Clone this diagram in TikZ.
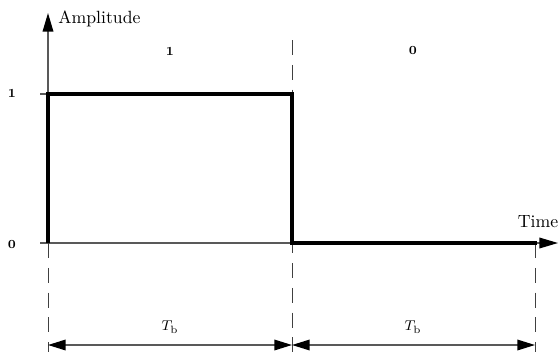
\documentclass[tikz,border=0pt]{standalone}
\usetikzlibrary{arrows.meta}
\begin{document}
\begin{tikzpicture}[x=0.565pt,y=-0.565pt,
  axisline/.style={draw=black!65,line width=0.8pt},
  signal/.style={draw=black,line width=2.2pt,line join=miter},
  guide/.style={draw=black!75,line width=0.5pt,dash pattern=on 8.5pt off 5.5pt},
  tip/.style={-{Triangle[length=10.5pt,width=6pt,black]}},
  dimline/.style={draw=black!65,line width=0.8pt,{Triangle[length=10pt,width=6pt,black]}-{Triangle[length=10pt,width=6pt,black]}},
  lab/.style={font=\scriptsize\bfseries,inner sep=0pt},
  txt/.style={font=\normalsize,inner sep=0pt}]
\useasboundingbox (0,0) rectangle (560,352);
% coordinates
\coordinate (o) at (48,243);
\coordinate (ytop) at (48,13);
\coordinate (xend) at (558,243);
\coordinate (xstart) at (40,243);
\coordinate (t1) at (40,94);
\coordinate (a1) at (48,94);
\coordinate (b1) at (292,94);
\coordinate (b0) at (292,243);
\coordinate (c0) at (537,243);
\coordinate (gtop) at (292,40);
\coordinate (gl) at (48,352);
\coordinate (gm) at (292,352);
\coordinate (gr) at (535,352);
\coordinate (gr0) at (535,243);
\coordinate (dl) at (48,345);
\coordinate (dm) at (292,345);
\coordinate (dr) at (535,345);
% axes
\draw[axisline,tip] (xstart) -- (xend);
\draw[axisline,tip] (o) -- (ytop);
\draw[axisline] (t1) -- (a1);
% guides
\draw[guide] (gtop) -- (gm);
\draw[guide] (o) -- (gl);
\draw[guide] (gr0) -- (gr);
% signal
\draw[signal] (o) -- (a1) -- (b1) -- (b0) -- (c0);
% dimension arrows
\draw[dimline] (dl) -- (dm);
\draw[dimline] (dm) -- (dr);
% labels
\node[txt,anchor=west] (amp) at (58,19) {Amplitude};
\node[txt] (time) at (538,222) {Time};
\node[lab] (bit1) at (170,51) {1};
\node[lab] (bit0) at (413,51) {0};
\node[lab] (lv1) at (12,93) {1};
\node[lab] (lv0) at (12,245) {0};
\node[font=\footnotesize,inner sep=0pt] (tb1) at (170,327) {$T_\mathrm{b}$};
\node[font=\footnotesize,inner sep=0pt] (tb2) at (413,327) {$T_\mathrm{b}$};
\end{tikzpicture}
\end{document}
